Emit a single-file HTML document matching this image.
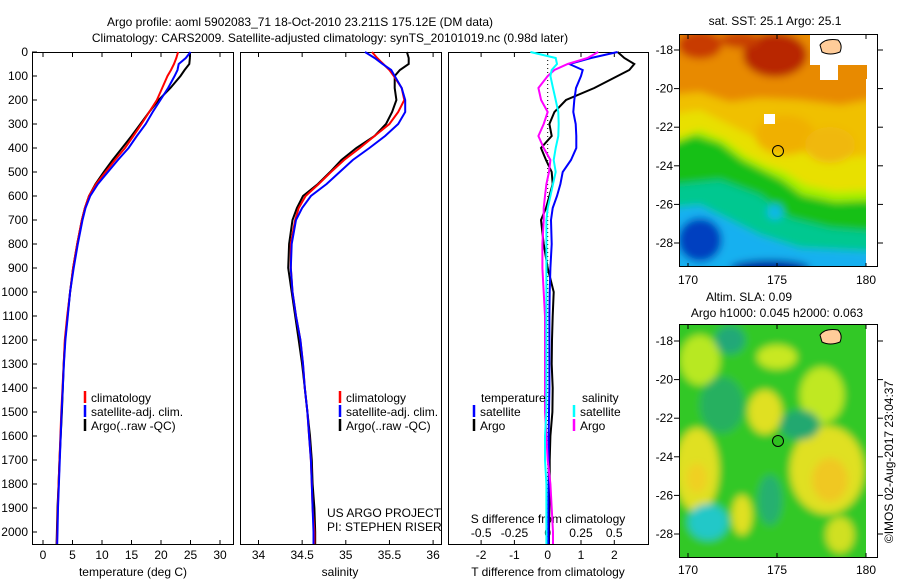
<!DOCTYPE html>
<html><head><meta charset="utf-8"><style>
html,body{margin:0;padding:0;background:#fff}
svg text{font-family:"Liberation Sans",sans-serif;font-size:12px;fill:#000}
</style></head><body>
<svg id="chart" width="900" height="580" viewBox="0 0 900 580" xmlns="http://www.w3.org/2000/svg">
<defs>
<filter id="blur" x="-10%" y="-10%" width="120%" height="120%"><feGaussianBlur stdDeviation="4"/></filter>
<clipPath id="clipTop"><rect x="679" y="35" width="188" height="232"/></clipPath>
<clipPath id="clipBot"><rect x="679" y="325" width="188" height="232"/></clipPath>
</defs>
<text x="300" y="26" text-anchor="middle" font-size="13">Argo profile: aoml 5902083_71 18-Oct-2010 23.211S 175.12E (DM data)</text>
<text x="330" y="42" text-anchor="middle" font-size="13">Climatology: CARS2009. Satellite-adjusted climatology: synTS_20101019.nc (0.98d later)</text>
<g id="panels"></g>

<!-- top map -->
<g>
<text x="775" y="25" text-anchor="middle">sat. SST: 25.1 Argo: 25.1</text>
<g clip-path="url(#clipTop)">
<g filter="url(#blur)">
<rect x="670" y="25" width="210" height="250" fill="#e88a00"/>
<ellipse cx="700" cy="45" rx="22" ry="14" fill="#c83a00"/>
<ellipse cx="775" cy="55" rx="32" ry="22" fill="#b82800"/>
<ellipse cx="740" cy="40" rx="20" ry="8" fill="#c84000"/>
<path d="M670,95 L700,92 L730,102 L760,98 L800,100 L840,105 L880,98 L880,280 L670,280 Z" fill="#f0c000"/>
<path d="M670,115 L700,110 L730,125 L760,140 L800,152 L840,158 L880,155 L880,280 L670,280 Z" fill="#e8e000"/>
<ellipse cx="785" cy="135" rx="30" ry="20" fill="#f0b000"/>
<ellipse cx="830" cy="145" rx="25" ry="18" fill="#f0b810"/>
<path d="M670,140 L700,130 L725,140 L745,155 L765,165 L785,172 L805,185 L835,192 L880,190 L880,280 L670,280 Z" fill="#a8f000"/>
<path d="M670,145 L695,135 L720,143 L742,160 L762,170 L782,180 L802,195 L835,202 L880,200 L880,280 L670,280 Z" fill="#18c018"/>
<path d="M670,185 L720,180 L760,195 L790,218 L830,228 L880,232 L880,280 L670,280 Z" fill="#00c890"/>
<path d="M670,208 L700,205 L730,220 L760,235 L800,248 L880,252 L880,280 L670,280 Z" fill="#18b0f0"/>
<ellipse cx="700" cy="240" rx="22" ry="22" fill="#0040c0"/>
<ellipse cx="770" cy="268" rx="40" ry="8" fill="#0020a0"/>
<ellipse cx="775" cy="212" rx="8" ry="8" fill="#10b8e8"/>
</g>
<rect x="810" y="35" width="58" height="30" fill="#fff"/>
<rect x="820" y="60" width="18" height="20" fill="#fff"/>
<rect x="866" y="79" width="12" height="190" fill="#fff"/>
<rect x="764" y="114" width="11" height="10" fill="#fff"/>
<path d="M820,45 Q825,38 838,40 Q843,45 840,52 Q830,56 822,52 Z" fill="#ffcc99" stroke="#000" stroke-width="1"/>
<circle cx="778" cy="151" r="5.5" fill="none" stroke="#000" stroke-width="1"/>
</g>
<rect x="679.5" y="34.5" width="198" height="232" fill="none" stroke="#000"/>
<g id="topTicks"></g>
</g>

<!-- bottom map -->
<g>
<text x="749" y="301" text-anchor="middle">Altim. SLA: 0.09</text>
<text x="777" y="317" text-anchor="middle">Argo h1000: 0.045 h2000: 0.063</text>
<g clip-path="url(#clipBot)">
<g filter="url(#blur)">
<rect x="670" y="315" width="210" height="250" fill="#30c828"/>
<ellipse cx="697" cy="470" rx="22" ry="42" fill="#e0e020"/>
<ellipse cx="697" cy="478" rx="10" ry="15" fill="#f0d020"/>
<ellipse cx="827" cy="470" rx="37" ry="44" fill="#e0e020"/>
<ellipse cx="830" cy="480" rx="18" ry="22" fill="#f0c820"/>
<ellipse cx="765" cy="412" rx="17" ry="22" fill="#e0e020"/>
<ellipse cx="777" cy="357" rx="20" ry="12" fill="#c8e820"/>
<ellipse cx="700" cy="360" rx="20" ry="25" fill="#b8e820"/>
<ellipse cx="822" cy="395" rx="22" ry="28" fill="#c0e820"/>
<ellipse cx="742" cy="515" rx="10" ry="20" fill="#e0e020"/>
<ellipse cx="840" cy="535" rx="14" ry="18" fill="#d0e020"/>
<ellipse cx="730" cy="340" rx="15" ry="14" fill="#20a878"/>
<ellipse cx="722" cy="405" rx="22" ry="28" fill="#28b060"/>
<ellipse cx="800" cy="425" rx="20" ry="15" fill="#20a870"/>
<ellipse cx="770" cy="500" rx="12" ry="25" fill="#28b070"/>
<ellipse cx="708" cy="522" rx="20" ry="18" fill="#20c8c8"/>
</g>
<rect x="866" y="325" width="12" height="235" fill="#fff"/>
<path d="M820,335 Q825,328 838,330 Q843,335 840,342 Q830,346 822,342 Z" fill="#ffcc99" stroke="#000" stroke-width="1"/>
<circle cx="778" cy="441" r="5.5" fill="#30c020" stroke="#000" stroke-width="1"/>
</g>
<rect x="679.5" y="324.5" width="198" height="233" fill="none" stroke="#000"/>
<g id="botTicks"></g>
</g>
<text transform="translate(893,462) rotate(-90)" text-anchor="middle">©IMOS 02-Aug-2017 23:04:37</text>
</svg>
<script>
const depth=[0,25,50,75,100,150,200,250,300,350,400,450,500,550,600,650,700,800,900,1000,1100,1200,1300,1400,1500,1600,1700,1800,1900,2000,2050];
const tempClim=[22.9,22.6,22.2,21.7,21.1,20.2,19.3,18.0,16.7,15.3,13.9,12.2,10.6,9.0,7.8,7.1,6.6,5.8,5.1,4.6,4.1,3.7,3.5,3.3,3.1,2.95,2.8,2.65,2.5,2.4,2.35];
const tempSat=[25.0,24.2,23.0,22.8,22.3,21.2,19.9,18.6,17.4,15.9,14.5,12.7,11.0,9.3,8.0,7.2,6.7,5.9,5.2,4.6,4.2,3.8,3.55,3.35,3.15,3.0,2.85,2.7,2.55,2.45,2.4];
const tempArgo=[24.9,24.9,24.8,24.0,23.3,21.6,19.6,18.0,16.5,15.0,13.4,11.8,10.3,8.9,7.8,7.1,6.6,5.8,5.1,4.6,4.15,3.75,3.5,3.35,3.2,3.0,2.8,2.65,2.45,2.35,2.3];
const salClim=[35.3,35.36,35.43,35.5,35.55,35.64,35.67,35.6,35.5,35.33,35.16,34.98,34.83,34.69,34.54,34.46,34.42,34.37,34.37,34.39,34.43,34.48,34.51,34.53,34.56,34.58,34.6,34.61,34.62,34.64,34.64];
const salSat=[35.22,35.33,35.42,35.52,35.56,35.64,35.68,35.68,35.6,35.45,35.27,35.08,34.93,34.78,34.6,34.5,34.43,34.38,34.37,34.39,34.43,34.48,34.51,34.53,34.56,34.58,34.6,34.61,34.62,34.63,34.63];
const salArgo=[35.70,35.72,35.72,35.62,35.56,35.56,35.58,35.53,35.46,35.33,35.12,34.95,34.82,34.68,34.51,34.44,34.39,34.35,34.34,34.38,34.42,34.46,34.5,34.53,34.56,34.59,34.61,34.62,34.64,34.65,34.65];
const tDiffSat=[2.1,1.3,0.65,1.05,1.0,0.85,0.8,0.77,0.84,0.86,0.86,0.7,0.45,0.38,0.28,0.15,0.1,0.12,0.08,0.06,0.05,0.05,0.05,0.05,0.04,0.03,0.03,0.03,0.02,0.02,0.02];
const tDiffArgo=[2.1,2.3,2.6,2.45,2.1,1.4,0.55,0.2,0.05,0.12,-0.2,-0.05,0.12,0.15,0.05,-0.05,-0.2,-0.12,0.0,0.18,0.15,0.13,0.12,0.15,0.14,0.08,0.06,0.06,0.05,0.04,0.04];
const sDiffSat=[-0.13,0.06,0.07,0.03,0.02,0.04,0.06,0.08,0.083,0.08,0.06,0.045,0.06,0.04,0.02,0.0,-0.01,-0.01,-0.01,-0.01,-0.01,-0.01,-0.01,-0.01,-0.01,-0.02,-0.02,-0.01,-0.01,-0.01,-0.01];
const sDiffArgo=[0.38,0.3,0.15,0.05,0.0,-0.07,-0.05,0.0,-0.03,-0.07,-0.03,0.02,0.01,-0.01,-0.02,-0.03,-0.03,-0.04,-0.04,-0.03,-0.02,-0.02,-0.02,-0.02,-0.02,-0.01,0.0,0.02,0.03,0.04,0.04];
const depthTicks=[0,100,200,300,400,500,600,700,800,900,1000,1100,1200,1300,1400,1500,1600,1700,1800,1900,2000];
const tempTicks=[0,5,10,15,20,25,30];
const salTicks=[34,34.5,35,35.5,36];
const tDiffTicks=[-2,-1,0,1,2];
const sDiffTicks=[-0.5,-0.25,0,0.25,0.5];
const lonTicks=[170,175,180];
const latTicks=[-18,-20,-22,-24,-26,-28];

const NS='http://www.w3.org/2000/svg';
const y=d=>52+0.24*d;
const xT=t=>43+5.9*t;
const xS=s=>258.5+87.3*(s-34);
const xTD=t=>547.7+33.3*t;
const xSD=s=>547.7+133*s;
const lonX=l=>688+(l-170)*17.8;
const latYTop=l=>50+(-18-l)*19.3;
const latYBot=l=>341+(-18-l)*19.3;
const g=document.getElementById('panels');
function mk(tag,at,parent){const e=document.createElementNS(NS,tag);for(const k in at)e.setAttribute(k,at[k]);(parent||g).appendChild(e);return e;}
function txt(x,yy,s,anchor,parent){const e=mk('text',{x:x,y:yy,'text-anchor':anchor||'middle'},parent);e.textContent=s;return e;}

const panels=[{x0:32,x1:233,name:'temperature-panel'},{x0:240,x1:441,name:'salinity-panel'},{x0:448,x1:648,name:'difference-panel'}];
panels.forEach(p=>{
  const r=mk('rect',{x:p.x0+0.5,y:52.5,width:p.x1-p.x0,height:492,fill:'none',stroke:'#000'});
  
  
});
depthTicks.forEach(d=>{
  const t=txt(28,y(d)+4,String(d),'end');
  
  
  mk('line',{x1:32,x2:37,y1:y(d),y2:y(d),stroke:'#000'});
});
function xticks(ticks,fx,labelY,labels){
  ticks.forEach(v=>{
    const X=fx(v);
    mk('line',{x1:X,x2:X,y1:545,y2:540,stroke:'#000'});
    mk('line',{x1:X,x2:X,y1:52,y2:57,stroke:'#000'});
    if(labels){const t=txt(X,labelY,String(v));
      
      }
  });
}
xticks(tempTicks,xT,559,true);
xticks(salTicks,xS,559,true);
xticks(tDiffTicks,xTD,559,true);
sDiffTicks.forEach(v=>{const t=txt(xSD(v),537,String(v));
  
  });
[[133,'temperature (deg C)','temperature-axis-title'],[340,'salinity','salinity-axis-title'],[548,'T difference from climatology','t-diff-axis-title']].forEach(a=>{
  const t=txt(a[0],576,a[1]);
  
  
});
const st=txt(548,523,'S difference from climatology');



function line(vals,fx,color,name){
  const pts=vals.map((v,i)=>fx(v).toFixed(1)+','+y(depth[i]).toFixed(1)).join(' ');
  const pl=mk('polyline',{points:pts,fill:'none',stroke:color,'stroke-width':2});
  
  
}
mk('line',{x1:xTD(0),x2:xTD(0),y1:52,y2:545,stroke:'#000','stroke-dasharray':'1,3'});
line(tempArgo,xT,'#000','temp-argo-line');
line(tempClim,xT,'#f00','temp-climatology-line');
line(tempSat,xT,'#00f','temp-satellite-line');
line(salArgo,xS,'#000','sal-argo-line');
line(salClim,xS,'#f00','sal-climatology-line');
line(salSat,xS,'#00f','sal-satellite-line');
line(tDiffArgo,xTD,'#000','tdiff-argo-line');
line(tDiffSat,xTD,'#00f','tdiff-satellite-line');
line(sDiffArgo,xSD,'#f0f','sdiff-argo-line');
line(sDiffSat,xSD,'#0ff','sdiff-satellite-line');

function legendEntry(x,yy,color,label){
  mk('line',{x1:x,x2:x,y1:yy-11,y2:yy+1,stroke:color,'stroke-width':2.5});
  const t=txt(x+6,yy,label,'start');
  
  
}
[[85,'climatology','#f00'],[85,'satellite-adj. clim.','#00f'],[85,'Argo(..raw -QC)','#000']].forEach((e,i)=>legendEntry(e[0],402+14*i,e[2],e[1]));
[[340,'climatology','#f00'],[340,'satellite-adj. clim.','#00f'],[340,'Argo(..raw -QC)','#000']].forEach((e,i)=>legendEntry(e[0],402+14*i,e[2],e[1]));
const lt=txt(481,402,'temperature','start');
const ls=txt(582,402,'salinity','start');
legendEntry(474,416,'#00f','satellite');legendEntry(474,430,'#000','Argo');
legendEntry(574,416,'#0ff','satellite');legendEntry(574,430,'#f0f','Argo');
const u1=txt(327,517,'US ARGO PROJECT','start');
const u2=txt(327,531,'PI: STEPHEN RISER','start');

function mapTicks(id,fy,yTop,yBot,labY){
  const p=document.getElementById(id);
  latTicks.forEach(l=>{
    const Y=fy(l);
    mk('line',{x1:679,x2:674,y1:Y,y2:Y,stroke:'#000'},p);
    mk('line',{x1:878,x2:883,y1:Y,y2:Y,stroke:'#000'},p);
    const t=txt(673,Y+4,String(l),'end',p);
    
    
  });
  lonTicks.forEach(l=>{
    const X=lonX(l);
    mk('line',{x1:X,x2:X,y1:yBot,y2:yBot-4,stroke:'#000'},p);
    mk('line',{x1:X,x2:X,y1:yTop,y2:yTop+4,stroke:'#000'},p);
    const t=txt(X,labY,String(l),'middle',p);
    
    
  });
}
mapTicks('topTicks',latYTop,35,267,284);
mapTicks('botTicks',latYBot,325,557,574);
</script>
</body></html>
